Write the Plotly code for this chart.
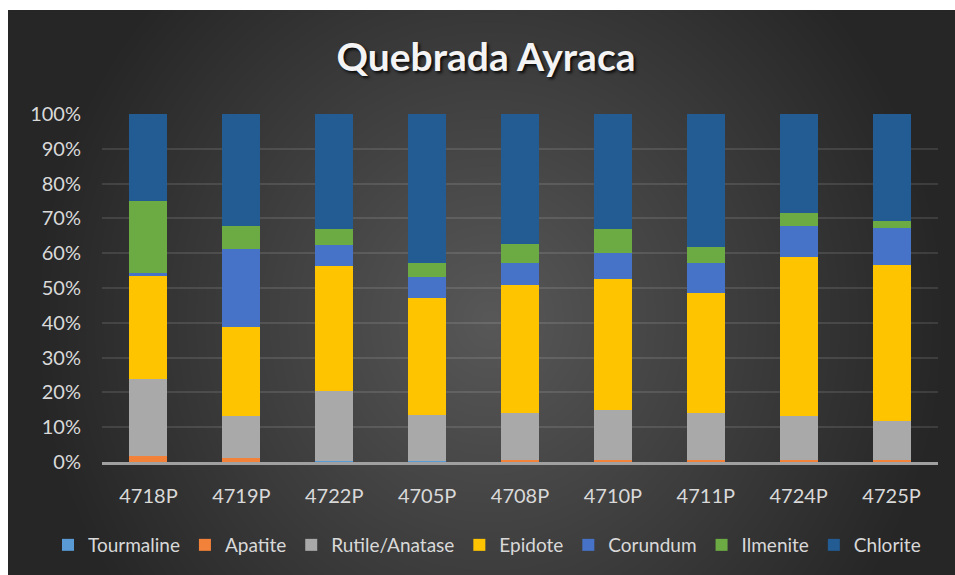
import base64
import struct
import zlib

import numpy as np
import plotly.graph_objects as go

# Heavy-mineral proportions (%) per sample, Quebrada Ayraca
samples = ["4718P", "4719P", "4722P", "4705P", "4708P", "4710P", "4711P", "4724P", "4725P"]
tourmaline = [0, 0, 0.3, 0.3, 0, 0, 0, 0, 0]
apatite = [1.7, 1.2, 0, 0, 0.5, 0.5, 0.5, 0.5, 0.5]
rutile_anatase = [22.1, 12.1, 20.1, 13.2, 13.5, 14.4, 13.5, 12.8, 11.3]
epidote = [29.6, 25.5, 35.9, 33.6, 36.9, 37.7, 34.6, 45.6, 44.8]
corundum = [0.8, 22.4, 6.1, 6.1, 6.3, 7.4, 8.6, 9.0, 10.7]
ilmenite = [20.8, 6.6, 4.6, 4.0, 5.4, 7.0, 4.6, 3.7, 2.0]
chlorite = [25.0, 32.2, 33.0, 42.8, 37.4, 33.0, 38.2, 28.4, 30.7]

y_ticks = [0, 10, 20, 30, 40, 50, 60, 70, 80, 90, 100]
y_tick_labels = [f"{v}%" for v in y_ticks]

series = [
    ("Tourmaline", tourmaline, "#5b9bd5"),
    ("Apatite", apatite, "#f2823a"),
    ("Rutile/Anatase", rutile_anatase, "#a9a9a9"),
    ("Epidote", epidote, "#ffc400"),
    ("Corundum", corundum, "#4673c8"),
    ("Ilmenite", ilmenite, "#6cab44"),
    ("Chlorite", chlorite, "#225c93"),
]

W, H = 955, 575
ML, MR, MT, MB = 102, 17, 114, 113
PW, PH = W - ML - MR, H - MT - MB


def png_uri(rgb):
    h, w, _ = rgb.shape
    raw = b"".join(b"\x00" + rgb[i].tobytes() for i in range(h))

    def chunk(tag, data):
        body = tag + data
        return struct.pack(">I", len(data)) + body + struct.pack(">I", zlib.crc32(body) & 0xFFFFFFFF)

    png = (b"\x89PNG\r\n\x1a\n"
           + chunk(b"IHDR", struct.pack(">IIBBBBB", w, h, 8, 2, 0, 0, 0))
           + chunk(b"IDAT", zlib.compress(raw, 9))
           + chunk(b"IEND", b""))
    return "data:image/png;base64," + base64.b64encode(png).decode()


# radial grey backdrop for the chart area
bx0, by0 = 8, 10
bw, bh = W - bx0, H - by0
gy, gx = np.mgrid[0:bh, 0:bw].astype(float)
r = np.sqrt(((gx + bx0 - 490) / 460) ** 2 + ((gy + by0 - 320) / 480) ** 2)
val = np.clip(88 - 50 * r, 38, 88).astype(np.uint8)
bg = np.repeat(val[:, :, None], 3, axis=2)
bg_src = png_uri(np.ascontiguousarray(bg))

fig = go.Figure()
for name, vals, color in series:
    fig.add_trace(go.Bar(
        x=samples, y=vals, name=name,
        marker=dict(color=color, line=dict(width=0)),
    ))

fig.add_layout_image(dict(
    source=bg_src, xref="paper", yref="paper",
    x=(bx0 - ML) / PW, y=(H - MB - by0) / PH,
    sizex=bw / PW, sizey=bh / PH,
    xanchor="left", yanchor="top", sizing="stretch", layer="below",
))

fig.update_layout(
    width=W, height=H,
    margin=dict(l=ML, r=MR, t=MT, b=MB, autoexpand=False),
    paper_bgcolor="white",
    plot_bgcolor="rgba(0,0,0,0)",
    barmode="stack",
    bargap=0.59,
    font=dict(family="Lato", color="#d9d9d9", size=20),
    title=dict(
        text="Quebrada Ayraca",
        x=486 / W, xref="container", xanchor="center",
        y=1 - 57 / H, yref="container", yanchor="middle",
        font=dict(family="Lato", size=39, color="#f4f4f4", weight="bold",
                  shadow="2px 2px 3px rgba(0,0,0,0.85)"),
    ),
    legend=dict(
        orientation="h", x=(48 - ML) / PW, xanchor="left",
        y=(H - MB - 545) / PH, yanchor="middle",
        font=dict(family="Lato", size=19, color="#d9d9d9"),
        traceorder="normal", itemwidth=30,
        bgcolor="rgba(0,0,0,0)",
    ),
    showlegend=True,
)

fig.update_yaxes(
    range=[0, 100], tickvals=y_ticks, ticktext=y_tick_labels,
    showgrid=True, gridcolor="rgba(255,255,255,0.11)", gridwidth=1.5,
    zeroline=False, showline=False, ticks="", ticklabelstandoff=20,
    tickfont=dict(family="Lato", size=20, color="#d9d9d9"),
)
fig.update_xaxes(
    showline=True, linecolor="#a0a0a0", linewidth=2.5,
    showgrid=False, ticks="", ticklabelstandoff=14,
    tickfont=dict(family="Lato", size=20, color="#d9d9d9"),
)

fig.write_html("out.html")
